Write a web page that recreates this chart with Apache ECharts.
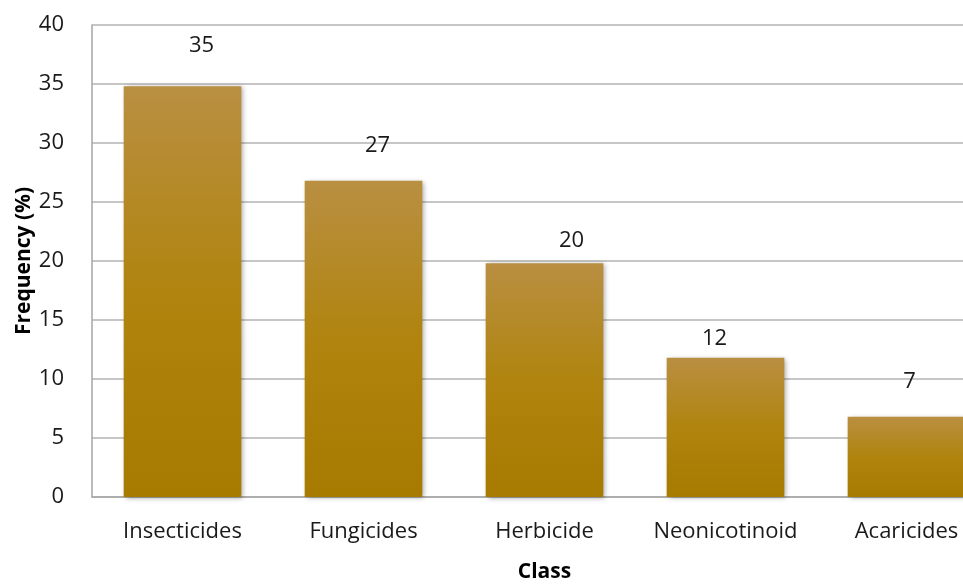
<!DOCTYPE html>
<html><head><meta charset="utf-8">
<script src="https://cdn.jsdelivr.net/npm/echarts@6/dist/echarts.min.js"></script>
<style>html,body{margin:0;padding:0;background:#fff}#c{width:963px;height:584px}</style>
</head><body><div id="c"></div>
<script>
const categories = ['Insecticides','Fungicides','Herbicide','Neonicotinoid','Acaricides'];
const frequency = [34.8, 26.8, 19.8, 11.8, 6.8];
const valueLabels = ['35','27','20','12','7'];
const yTicks = [0,5,10,15,20,25,30,35,40];

const labelShift = [[19,-22],[14,-16],[27,-4],[-11,0],[3,-16]];
const chart = echarts.init(document.getElementById('c'));
const font = '"Open Sans", "Noto Sans", sans-serif';
chart.setOption({
  animation:false,
  grid:{left:92, top:25, width:905, height:472, containLabel:false, outerBoundsMode:'none'},
  xAxis:{
    type:'category', data:categories,
    axisLine:{lineStyle:{color:'#a6a6a6', width:1.5}},
    axisTick:{show:false},
    axisLabel:{color:'#1a1a1a', fontSize:22, fontFamily:font, margin:24, interval:0, hideOverlap:false},
    name:'Class', nameLocation:'middle', nameGap:65, nameMoveOverlap:false,
    nameTextStyle:{color:'#000', fontSize:21, fontWeight:'bold', fontFamily:font}
  },
  yAxis:{
    type:'value', min:yTicks[0], max:yTicks[yTicks.length-1], interval:5,
    axisLine:{show:true, lineStyle:{color:'#a6a6a6', width:1.5}},
    axisTick:{show:false},
    splitLine:{lineStyle:{color:'#b3b3b3', width:1.5}},
    axisLabel:{color:'#1a1a1a', fontSize:22, fontFamily:font, margin:28},
    name:'Frequency (%)', nameLocation:'middle', nameGap:57, nameMoveOverlap:false,
    nameTextStyle:{color:'#000', fontSize:21, fontWeight:'bold', fontFamily:font}
  },
  series:[{
    type:'bar', barWidth:'65%',
    data: frequency.map((v,i)=>({value:v, label:{offset:labelShift[i]}})),
    itemStyle:{
      color:new echarts.graphic.LinearGradient(0,0,0,1,[{offset:0,color:'#b98f42'},{offset:0.5,color:'#b0840e'},{offset:1,color:'#a77b00'}]),
      shadowBlur:5, shadowColor:'rgba(0,0,0,0.35)', shadowOffsetX:2, shadowOffsetY:1
    },
    label:{show:true, position:'top', distance:8, color:'#1a1a1a', fontSize:22, fontFamily:font,
      formatter:p=>valueLabels[p.dataIndex]}
  }]
});
</script></body></html>
